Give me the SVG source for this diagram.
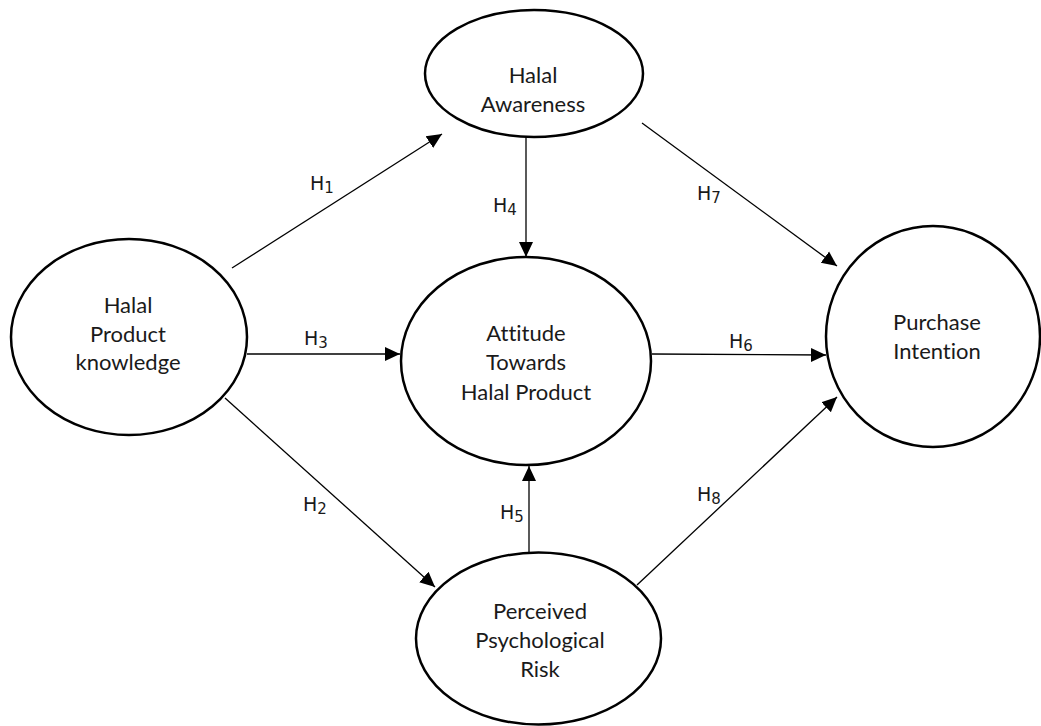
<svg xmlns="http://www.w3.org/2000/svg" width="1041" height="726" viewBox="0 0 1041 726">
<style>
.node{fill:#fff;stroke:#000;stroke-width:2.5}
.lbl{font-family:Lato,"Open Sans",sans-serif;font-size:22px;fill:#1a1a1a;text-anchor:middle;font-variant-ligatures:none}
.edge{stroke:#000;stroke-width:1.3;fill:none;marker-end:url(#arr)}
.h{font-family:"DejaVu Sans",Verdana,sans-serif;font-size:19px;fill:#1a1a1a}
.sub{font-size:15px}
</style>
<defs>
<marker id="arr" markerUnits="userSpaceOnUse" markerWidth="16" markerHeight="16" viewBox="0 0 16 16" refX="15" refY="8" orient="auto">
<path d="M0,1 L15,8 L0,15 Z" fill="#000"/>
</marker>
</defs>
<rect width="1041" height="726" fill="#fff"/>
<g id="connectors">
<line class="edge" x1="232" y1="268" x2="442" y2="134"/>
<line class="edge" x1="247" y1="354" x2="400" y2="354"/>
<line class="edge" x1="225" y1="398" x2="435" y2="587"/>
<line class="edge" x1="526" y1="137" x2="526" y2="257"/>
<line class="edge" x1="529" y1="552" x2="529" y2="466"/>
<line class="edge" x1="652" y1="354" x2="826" y2="355"/>
<line class="edge" x1="642" y1="123" x2="837" y2="266"/>
<line class="edge" x1="637" y1="585" x2="837" y2="397"/>
<text class="h" x="310" y="190">H<tspan class="sub" dy="3">1</tspan></text>
<text class="h" x="304" y="345">H<tspan class="sub" dy="3">3</tspan></text>
<text class="h" x="303" y="511">H<tspan class="sub" dy="3">2</tspan></text>
<text class="h" x="493" y="212">H<tspan class="sub" dy="3">4</tspan></text>
<text class="h" x="500" y="519">H<tspan class="sub" dy="3">5</tspan></text>
<text class="h" x="729" y="348">H<tspan class="sub" dy="3">6</tspan></text>
<text class="h" x="697" y="200">H<tspan class="sub" dy="3">7</tspan></text>
<text class="h" x="697" y="501">H<tspan class="sub" dy="3">8</tspan></text>
</g>
<g id="knowledge">
<ellipse class="node" cx="129" cy="337" rx="118" ry="98"/>
<text class="lbl" x="128" y="313">Halal</text>
<text class="lbl" x="128" y="342">Product</text>
<text class="lbl" x="128" y="370">knowledge</text>
</g>
<g id="awareness">
<ellipse class="node" cx="534" cy="73.5" rx="109" ry="63.5"/>
<text class="lbl" x="533" y="83">Halal</text>
<text class="lbl" x="533" y="112">Awareness</text>
</g>
<g id="attitude">
<ellipse class="node" cx="526" cy="361" rx="125" ry="104"/>
<text class="lbl" x="526" y="341">Attitude</text>
<text class="lbl" x="526" y="370">Towards</text>
<text class="lbl" x="526" y="400">Halal Product</text>
</g>
<g id="purchase">
<ellipse class="node" cx="933" cy="336.5" rx="107" ry="110.5"/>
<text class="lbl" x="937" y="330">Purchase</text>
<text class="lbl" x="937" y="359">Intention</text>
</g>
<g id="risk">
<ellipse class="node" cx="538.5" cy="638.5" rx="122.5" ry="86"/>
<text class="lbl" x="540" y="619">Perceived</text>
<text class="lbl" x="540" y="648">Psychological</text>
<text class="lbl" x="540" y="677">Risk</text>
</g>
</svg>
